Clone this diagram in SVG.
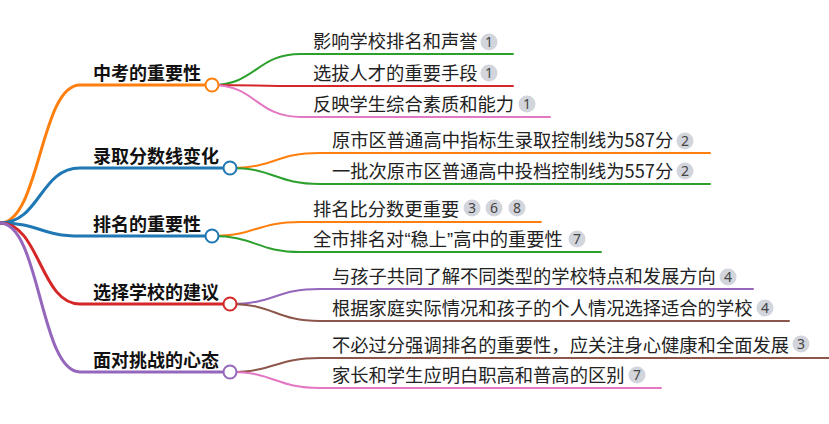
<svg xmlns="http://www.w3.org/2000/svg" width="829" height="424" viewBox="0 0 829 424">
<style>
  .lk{fill:none;stroke-linecap:round}
  .b{stroke-width:3}
  .l{stroke-width:2}
  .bt{font-family:"Noto Sans CJK SC","Noto Sans",sans-serif;font-size:18px;font-weight:bold;fill:#111}
  .lt{font-family:"Noto Sans CJK SC","Noto Sans",sans-serif;font-size:18.3px;fill:#222}
  .q{font-family:"Liberation Sans",sans-serif}
  .bd circle{fill:#d3d5dc}
  .bd text{font-family:"Noto Sans","Liberation Sans",sans-serif;font-size:14px;fill:#444;text-anchor:middle}
  .nc{fill:#fff;stroke-width:2}
</style>
<g id="connectors">
  <path class="lk b" stroke="#ff7f0e" d="M0 223 C40 223 40 85 80 85 H212"/>
  <path class="lk b" stroke="#1f77b4" d="M0 223 C40 223 40 168 80 168 H230"/>
  <path class="lk b" stroke="#1f77b4" d="M0 223 C40 223 40 236 80 236 H212"/>
  <path class="lk b" stroke="#d62728" d="M0 223 C40 223 40 304 80 304 H230"/>
  <path class="lk b" stroke="#9467bd" d="M0 223 C40 223 40 372 80 372 H230"/>
  <path class="lk l" stroke="#2ca02c" d="M212 85 C256 85 256 54 301 54 H513"/>
  <path class="lk l" stroke="#d62728" d="M212 85 C256 85 256 86 301 86 H513"/>
  <path class="lk l" stroke="#e377c2" d="M212 85 C256 85 256 117 301 117 H550"/>
  <path class="lk l" stroke="#ff7f0e" d="M230 168 C275 168 275 153 320 153 H710"/>
  <path class="lk l" stroke="#2ca02c" d="M230 168 C275 168 275 184 320 184 H710"/>
  <path class="lk l" stroke="#ff7f0e" d="M212 236 C256 236 256 222 301 222 H541"/>
  <path class="lk l" stroke="#2ca02c" d="M212 236 C256 236 256 252 301 252 H601"/>
  <path class="lk l" stroke="#9467bd" d="M230 304 C275 304 275 289 320 289 H753"/>
  <path class="lk l" stroke="#8c564b" d="M230 304 C275 304 275 321 320 321 H789"/>
  <path class="lk l" stroke="#8c564b" d="M230 372 C275 372 275 358 320 358 H832"/>
  <path class="lk l" stroke="#e377c2" d="M230 372 C275 372 275 388 320 388 H661"/>
</g>
<g id="n1"><text class="bt" x="93" y="80">中考的重要性</text><circle class="nc" stroke="#ff7f0e" cx="212" cy="85" r="6.5"/></g>
<g id="n2"><text class="bt" x="93" y="163">录取分数线变化</text><circle class="nc" stroke="#1f77b4" cx="230" cy="168" r="6.5"/></g>
<g id="n3"><text class="bt" x="93" y="231">排名的重要性</text><circle class="nc" stroke="#1f77b4" cx="212" cy="236" r="6.5"/></g>
<g id="n4"><text class="bt" x="93" y="299">选择学校的建议</text><circle class="nc" stroke="#d62728" cx="230" cy="304" r="6.5"/></g>
<g id="n5"><text class="bt" x="93" y="367">面对挑战的心态</text><circle class="nc" stroke="#9467bd" cx="230" cy="372" r="6.5"/></g>

<g id="l1"><text class="lt" x="313" y="48">影响学校排名和声誉</text><g class="bd"><circle cx="489" cy="42" r="8.5"/><text x="489" y="47">1</text></g></g>
<g id="l2"><text class="lt" x="313" y="80">选拔人才的重要手段</text><g class="bd"><circle cx="489" cy="73" r="8.5"/><text x="489" y="78">1</text></g></g>
<g id="l3"><text class="lt" x="313" y="111">反映学生综合素质和能力</text><g class="bd"><circle cx="527" cy="104" r="8.5"/><text x="527" y="109">1</text></g></g>
<g id="l4"><text class="lt" x="332" y="147">原市区普通高中指标生录取控制线为587分</text><g class="bd"><circle cx="685" cy="141" r="8.5"/><text x="685" y="146">2</text></g></g>
<g id="l5"><text class="lt" x="332" y="178">一批次原市区普通高中投档控制线为557分</text><g class="bd"><circle cx="685" cy="171" r="8.5"/><text x="685" y="176">2</text></g></g>
<g id="l6"><text class="lt" x="313" y="216">排名比分数更重要</text><g class="bd"><circle cx="472" cy="208" r="8.5"/><text x="472" y="213">3</text><circle cx="494" cy="208" r="8.5"/><text x="494" y="213">6</text><circle cx="517" cy="208" r="8.5"/><text x="517" y="213">8</text></g></g>
<g id="l7"><text class="lt" x="313" y="246">全市排名对<tspan class="q">“</tspan>稳上<tspan class="q">”</tspan>高中的重要性</text><g class="bd"><circle cx="577" cy="239" r="8.5"/><text x="577" y="244">7</text></g></g>
<g id="l8"><text class="lt" x="332" y="283">与孩子共同了解不同类型的学校特点和发展方向</text><g class="bd"><circle cx="728" cy="277" r="8.5"/><text x="728" y="282">4</text></g></g>
<g id="l9"><text class="lt" x="332" y="315">根据家庭实际情况和孩子的个人情况选择适合的学校</text><g class="bd"><circle cx="765" cy="308" r="8.5"/><text x="765" y="313">4</text></g></g>
<g id="l10"><text class="lt" x="332" y="352">不必过分强调排名的重要性，应关注身心健康和全面发展</text><g class="bd"><circle cx="801" cy="344" r="8.5"/><text x="801" y="349">3</text></g></g>
<g id="l11"><text class="lt" x="332" y="382">家长和学生应明白职高和普高的区别</text><g class="bd"><circle cx="637" cy="375" r="8.5"/><text x="637" y="380">7</text></g></g>
</svg>
